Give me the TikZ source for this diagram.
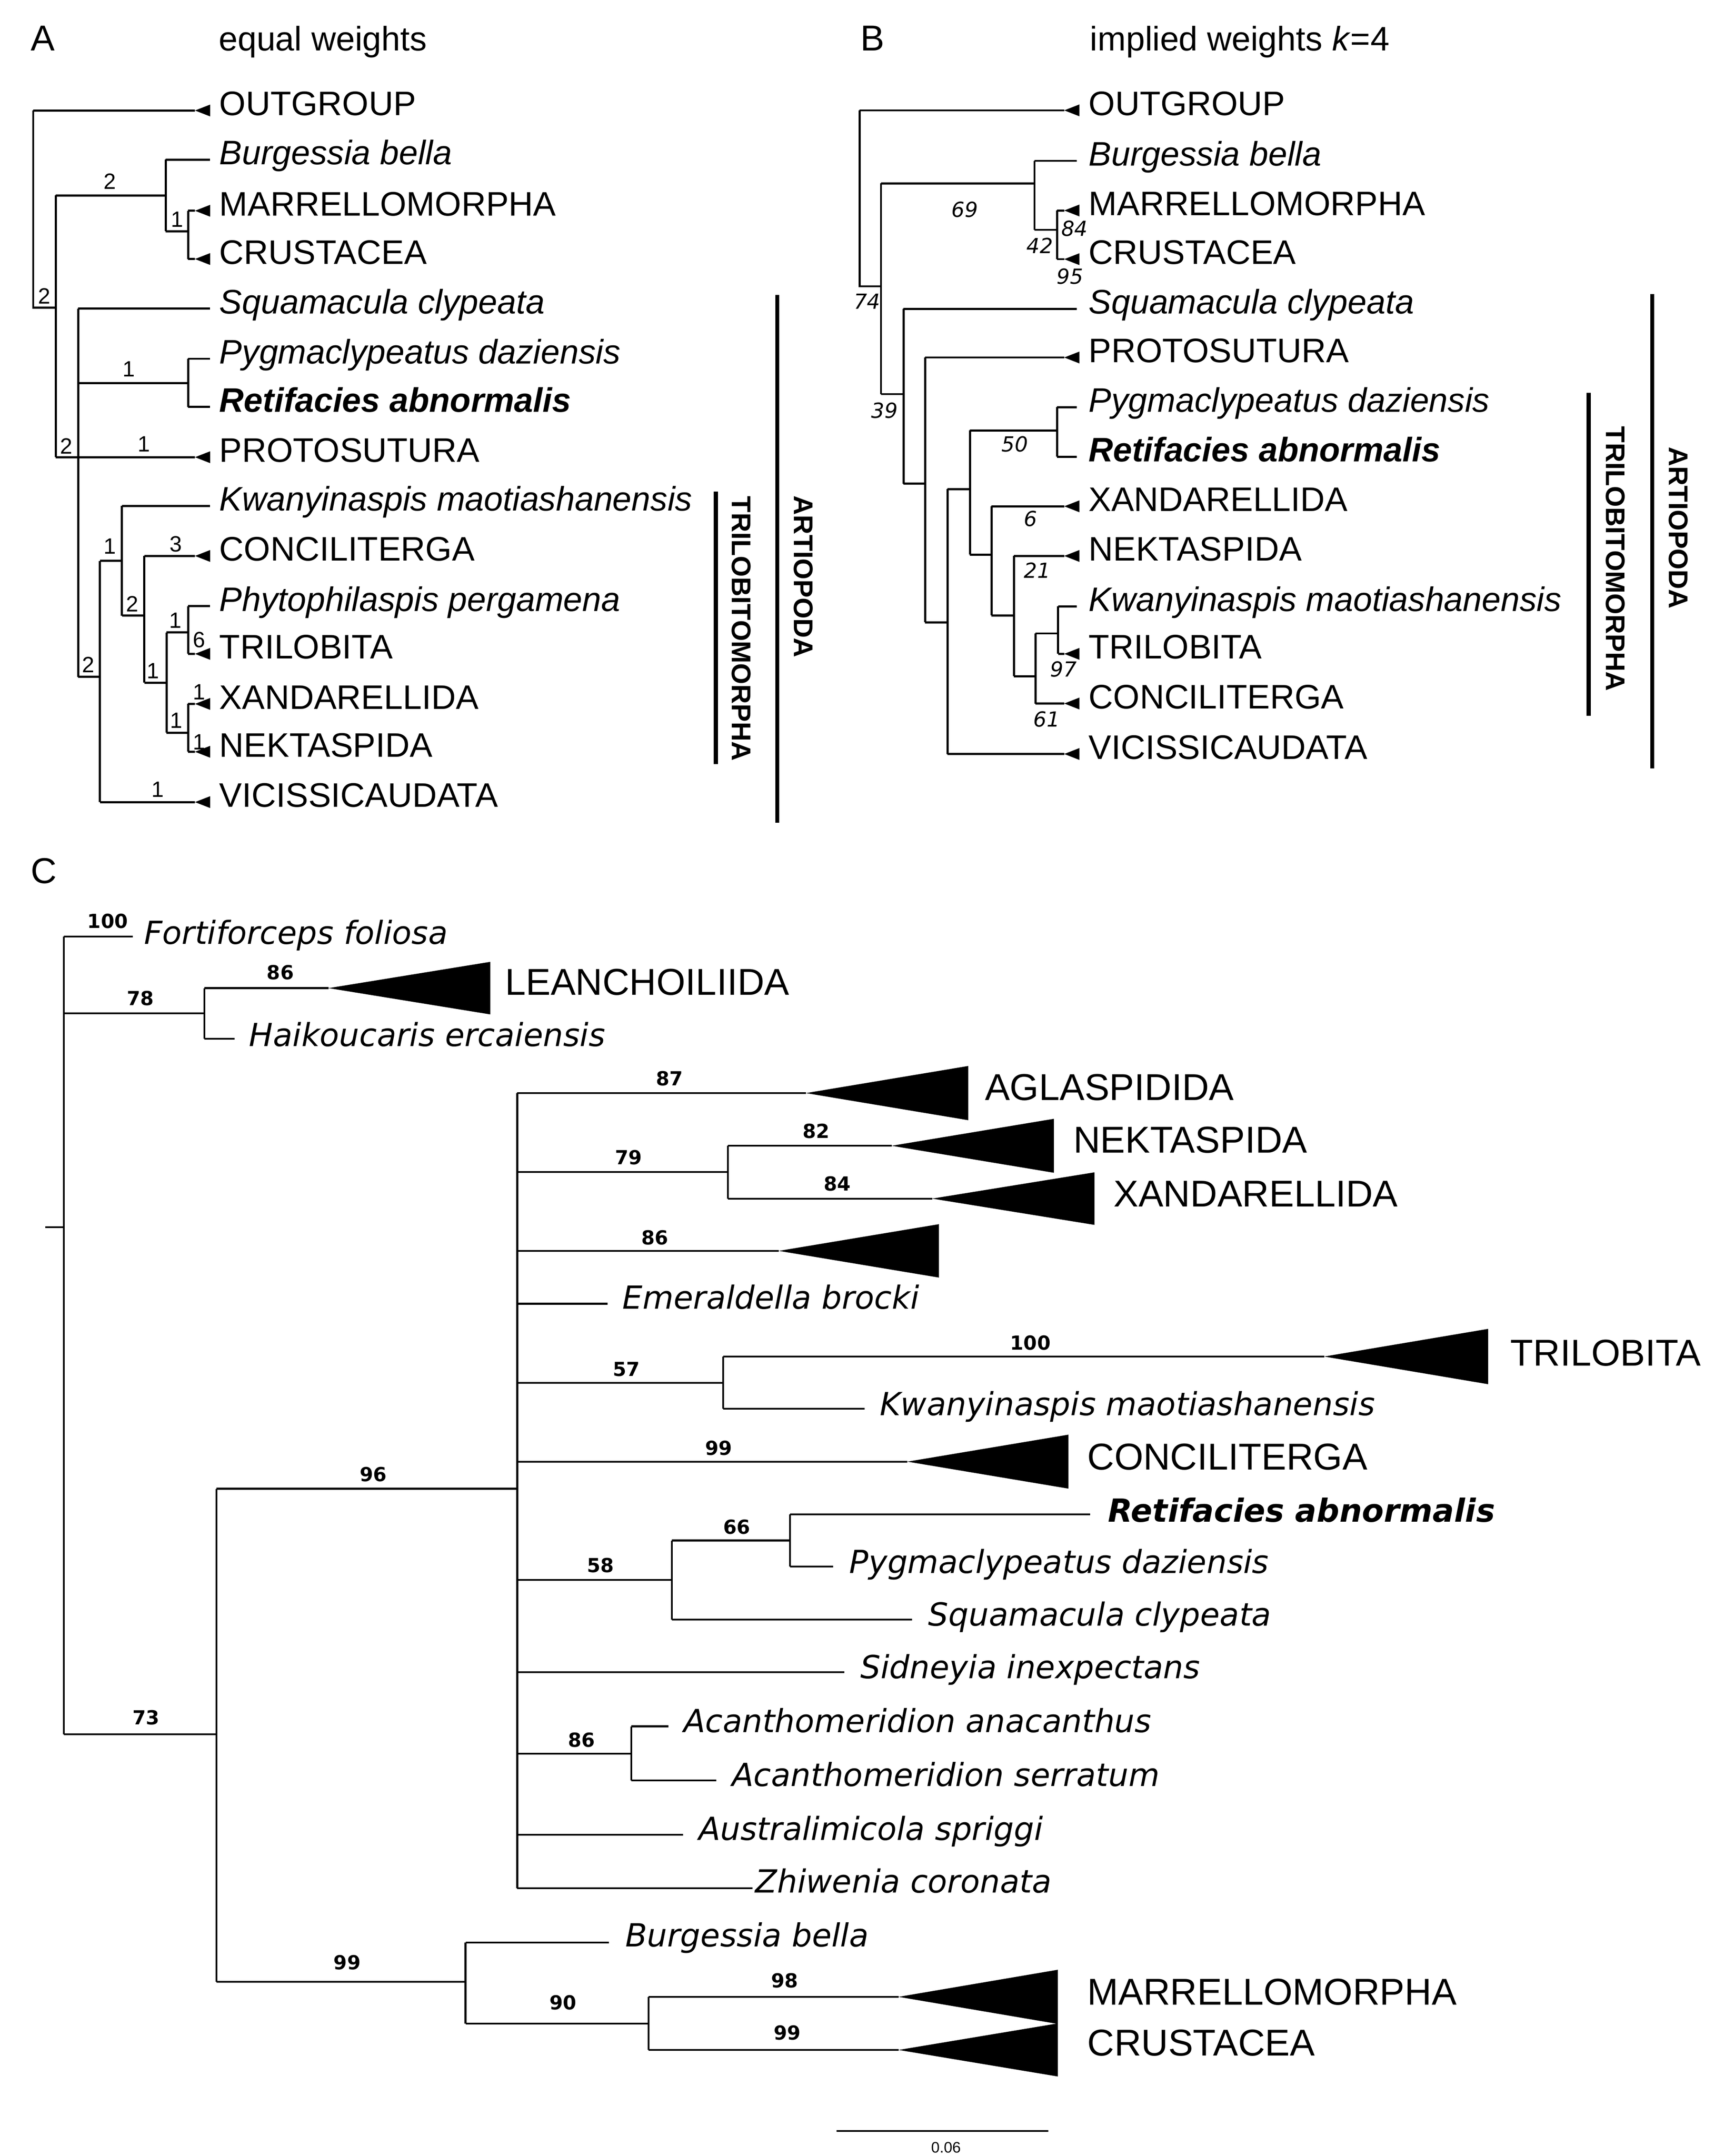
\documentclass[tikz,border=0pt]{standalone}
\usepackage{fontspec}
\newfontfamily\arial{Liberation Sans}
\newfontfamily\dejavu{DejaVu Sans}
\newcommand\tri[2]{\fill (#1-11,#2)--(#1,#2-4.3)--(#1,#2+4.3)--cycle;}
\newcommand\ctri[4]{\fill (#1,#2)--(#3,#2-#4)--(#3,#2+#4)--cycle;}
\tikzset{
 lab/.style={anchor=west,inner sep=0pt,text height=0.72em,text depth=0pt,font=\arial\fontsize{24.6}{26}\selectfont},
 itl/.style={lab,font=\arial\itshape\fontsize{24.6}{26}\selectfont},
 bitl/.style={lab,font=\arial\bfseries\itshape\fontsize{24.6}{26}\selectfont},
 numA/.style={inner sep=0pt,font=\arial\fontsize{16}{17}\selectfont},
 numB/.style={inner sep=0pt,font=\dejavu\itshape\fontsize{15}{16}\selectfont},
 numC/.style={inner sep=0pt,font=\dejavu\bfseries\fontsize{14}{15}\selectfont},
 capC/.style={anchor=west,inner sep=0pt,text height=0.72em,text depth=0pt,font=\arial\fontsize{27}{29}\selectfont},
 itC/.style={anchor=west,inner sep=0pt,text height=0.72em,text depth=0pt,font=\dejavu\itshape\fontsize{23}{25}\selectfont},
 bitC/.style={itC,font=\dejavu\bfseries\itshape\fontsize{23}{25}\selectfont},
 clade/.style={inner sep=0pt,rotate=-90,font=\arial\bfseries\fontsize{19.5}{21}\selectfont},
 br/.style={line width=1.5pt},
 brC/.style={line width=1.3pt},
 bar/.style={line width=3pt}
}
\begin{document}
\begin{tikzpicture}[x=1pt,y=-1pt]
\useasboundingbox (0,0) rectangle (1240,1559);
% ---------- headers
\node[lab,font=\arial\fontsize{26}{28}\selectfont] (hA) at (22,33) {A};
\node[lab] (tA) at (158,33) {equal weights};
\node[lab,font=\arial\fontsize{26}{28}\selectfont] (hB) at (622,33) {B};
\node[lab] (tB) at (788,33) {implied weights \textit{k}=4};
\node[lab,font=\arial\fontsize{26}{28}\selectfont] (hC) at (22,635) {C};
% ---------- panel A
\begin{scope}[br]
\draw (24,79.9)--(141,79.9); \tri{152}{79.9}
\draw (24,79.9)--(24,222.5)--(40.3,222.5);
\draw (40.3,141.3)--(40.3,330.6);
\draw (40.3,141.3)--(119.8,141.3);
\draw (119.8,115.4)--(119.8,167.2);
\draw (119.8,115.4)--(152,115.4);
\draw (119.8,167.2)--(136,167.2);
\draw (136,152.4)--(136,187.3);
\draw (136,152.4)--(141,152.4); \tri{152}{152.4}
\draw (136,187.3)--(141,187.3); \tri{152}{187.3}
\draw (40.3,330.6)--(141,330.6); \tri{152}{330.6}
\draw (56.5,223.2)--(56.5,489.4);
\draw (56.5,223.2)--(152,223.2);
\draw (56.5,277)--(136,277);
\draw (136,259.4)--(136,294.3);
\draw (136,259.4)--(152,259.4);
\draw (136,294.3)--(152,294.3);
\draw (56.5,489.4)--(72.3,489.4);
\draw (72.3,405.5)--(72.3,580);
\draw (72.3,580)--(141,580); \tri{152}{580}
\draw (72.3,405.5)--(88.1,405.5);
\draw (88.1,365.8)--(88.1,445.2);
\draw (88.1,365.8)--(152,365.8);
\draw (88.1,445.2)--(104.3,445.2);
\draw (104.3,402)--(104.3,493.6);
\draw (104.3,402)--(141,402); \tri{152}{402}
\draw (104.3,493.6)--(120.4,493.6);
\draw (120.4,457.3)--(120.4,529.8);
\draw (120.4,457.3)--(136,457.3);
\draw (136,438.3)--(136,472.8);
\draw (136,438.3)--(152,438.3);
\draw (136,472.8)--(141,472.8); \tri{152}{472.8}
\draw (120.4,529.8)--(136,529.8);
\draw (136,509)--(136,543.6);
\draw (136,509)--(141,509); \tri{152}{509}
\draw (136,543.6)--(141,543.6); \tri{152}{543.6}
\end{scope}
\node[lab] (a1) at (158.5,79.9) {OUTGROUP};
\node[itl] (a2) at (158.5,115.4) {Burgessia bella};
\node[lab] (a3) at (158.5,152.4) {MARRELLOMORPHA};
\node[lab] (a4) at (158.5,187.3) {CRUSTACEA};
\node[itl] (a5) at (158.5,223.2) {Squamacula clypeata};
\node[itl] (a6) at (158.5,259.4) {Pygmaclypeatus daziensis};
\node[bitl] (a7) at (158.5,294.3) {Retifacies abnormalis};
\node[lab] (a8) at (158.5,330.6) {PROTOSUTURA};
\node[itl] (a9) at (158.5,365.8) {Kwanyinaspis maotiashanensis};
\node[lab] (a10) at (158.5,402) {CONCILITERGA};
\node[itl] (a11) at (158.5,438.3) {Phytophilaspis pergamena};
\node[lab] (a12) at (158.5,472.8) {TRILOBITA};
\node[lab] (a13) at (158.5,509) {XANDARELLIDA};
\node[lab] (a14) at (158.5,543.6) {NEKTASPIDA};
\node[lab] (a15) at (158.5,580) {VICISSICAUDATA};
\foreach \x/\y/\t in {32/214/2,79.5/131/2,128/158.6/1,48/322.6/2,104/321/1,93/267/1,64/480.8/2,114/571/1,79.5/395/1,95.6/436.6/2,127/393.5/3,110.6/485/1,126.7/448.7/1,144/462.5/6,127.3/521/1,144/500.5/1,144/536.7/1}
  \node[numA] at (\x,\y) {\t};
\draw[bar] (517.5,355.4)--(517.5,552.4);
\node[clade] (tmA) at (536,454.5) {TRILOBITOMORPHA};
\draw[bar] (562,213.2)--(562,594.8);
\node[clade] (arA) at (581,417) {ARTIOPODA};
% ---------- panel B
\begin{scope}[br]
\draw (621.5,79.8)--(769.5,79.8); \tri{780.5}{79.8}
\draw (621.5,79.8)--(621.5,207)--(637,207);
\draw (637,132.6)--(637,285);
\draw (637,132.6)--(748,132.6);
\draw (748,116.3)--(748,166.2);
\draw (748,116.3)--(778.6,116.3);
\draw (748,166.2)--(764.3,166.2);
\draw (764.3,152.2)--(764.3,187.4);
\draw (764.3,152.2)--(769.5,152.2); \tri{780.5}{152.2}
\draw (764.3,187.4)--(769.5,187.4); \tri{780.5}{187.4}
\draw (637,285)--(653.3,285);
\draw (653.3,223.3)--(653.3,349.8);
\draw (653.3,223.3)--(778.6,223.3);
\draw (653.3,349.8)--(668.9,349.8);
\draw (668.9,258.5)--(668.9,450);
\draw (668.9,258.5)--(769.5,258.5); \tri{780.5}{258.5}
\draw (668.9,450)--(685.1,450);
\draw (685.1,353.7)--(685.1,545.2);
\draw (685.1,545.2)--(769.5,545.2); \tri{780.5}{545.2}
\draw (685.1,353.7)--(701.3,353.7);
\draw (701.3,311.3)--(701.3,401);
\draw (701.3,311.3)--(764.3,311.3);
\draw (764.3,294.4)--(764.3,330.3);
\draw (764.3,294.4)--(778.6,294.4);
\draw (764.3,330.3)--(778.6,330.3);
\draw (701.3,401)--(716.9,401);
\draw (716.9,366.1)--(716.9,445);
\draw (716.9,366.1)--(769.5,366.1); \tri{780.5}{366.1}
\draw (716.9,445)--(733.1,445);
\draw (733.1,402)--(733.1,489);
\draw (733.1,402)--(769.5,402); \tri{780.5}{402}
\draw (733.1,489)--(748.7,489);
\draw (748.7,458)--(748.7,508.7);
\draw (748.7,508.7)--(769.5,508.7); \tri{780.5}{508.7}
\draw (748.7,458)--(765,458);
\draw (765,438.5)--(765,472.8);
\draw (765,438.5)--(778.6,438.5);
\draw (765,472.8)--(769.5,472.8); \tri{780.5}{472.8}
\end{scope}
\node[lab] (b1) at (787,79.8) {OUTGROUP};
\node[itl] (b2) at (787,116.3) {Burgessia bella};
\node[lab] (b3) at (787,152.2) {MARRELLOMORPHA};
\node[lab] (b4) at (787,187.4) {CRUSTACEA};
\node[itl] (b5) at (787,223.3) {Squamacula clypeata};
\node[lab] (b6) at (787,258.5) {PROTOSUTURA};
\node[itl] (b7) at (787,294.4) {Pygmaclypeatus daziensis};
\node[bitl] (b8) at (787,330.3) {Retifacies abnormalis};
\node[lab] (b9) at (787,366.1) {XANDARELLIDA};
\node[lab] (b10) at (787,402) {NEKTASPIDA};
\node[itl] (b11) at (787,438.5) {Kwanyinaspis maotiashanensis};
\node[lab] (b12) at (787,472.8) {TRILOBITA};
\node[lab] (b13) at (787,508.7) {CONCILITERGA};
\node[lab] (b14) at (787,545.2) {VICISSICAUDATA};
\foreach \x/\y/\t in {627/218/74,697.5/151.5/69,751.8/177.6/42,777/165.2/84,773.6/199.8/95,639.6/296.7/39,733.7/321/50,745/375/6,750/412.5/21,756.8/520/61,769/484/97}
  \node[numB] at (\x,\y) {\t};
\draw[bar] (1148.6,283.9)--(1148.6,517.5);
\node[clade] (tmB) at (1168,404) {TRILOBITOMORPHA};
\draw[bar] (1194.7,212.6)--(1194.7,555.5);
\node[clade] (arB) at (1213.5,381.7) {ARTIOPODA};
% ---------- panel C
\begin{scope}[brC]
\draw (32.8,887.4)--(46.2,887.4);
\draw (46.2,677.2)--(46.2,1254);
\draw (46.2,677.2)--(96.1,677.2);
\draw (46.2,732.8)--(147.7,732.8);
\draw (147.7,714.5)--(147.7,751.2);
\draw (147.7,714.5)--(237.6,714.5); \ctri{237.6}{714.5}{354.5}{19}
\draw (147.7,751.2)--(169.7,751.2);
\draw (46.2,1254)--(156.5,1254);
\draw (156.5,1076.5)--(156.5,1433);
\draw (156.5,1076.5)--(374,1076.5);
\draw (374,790.4)--(374,1365.4);
\draw (374,790.4)--(582.7,790.4); \ctri{582.7}{790.4}{700.1}{19.6}
\draw (374,847.5)--(526.3,847.5);
\draw (526.3,828.5)--(526.3,866.7);
\draw (526.3,828.5)--(644.7,828.5); \ctri{644.7}{828.5}{762}{19.5}
\draw (526.3,866.7)--(674,866.7); \ctri{674}{866.7}{791.4}{19}
\draw (374,904.5)--(563.1,904.5); \ctri{563.1}{904.5}{678.9}{19.3}
\draw (374,942.7)--(439.2,942.7);
\draw (374,999.8)--(522.9,999.8);
\draw (522.9,980.9)--(522.9,1018.7);
\draw (522.9,980.9)--(957.4,980.9); \ctri{957.4}{980.9}{1076}{20}
\draw (522.9,1018.7)--(625,1018.7);
\draw (374,1056.9)--(656.1,1056.9); \ctri{656.1}{1056.9}{772.5}{19.5}
\draw (374,1142.3)--(485.8,1142.3);
\draw (485.8,1113.9)--(485.8,1171);
\draw (485.8,1113.9)--(571.3,1113.9);
\draw (571.3,1095)--(571.3,1132.8);
\draw (571.3,1095)--(788.2,1095);
\draw (571.3,1132.8)--(602.3,1132.8);
\draw (485.8,1171)--(659.3,1171);
\draw (374,1209.2)--(610.4,1209.2);
\draw (374,1268)--(456.5,1268);
\draw (456.5,1248.3)--(456.5,1287.4);
\draw (456.5,1248.3)--(483.3,1248.3);
\draw (456.5,1287.4)--(517.9,1287.4);
\draw (374,1326.8)--(493.9,1326.8);
\draw (374,1365.4)--(544.2,1365.4);
\draw (156.5,1433)--(336.6,1433);
\draw (336.6,1404.6)--(336.6,1463.2);
\draw (336.6,1404.6)--(440.2,1404.6);
\draw (336.6,1463.2)--(468.9,1463.2);
\draw (468.9,1443.9)--(468.9,1482.3);
\draw (468.9,1443.9)--(649.7,1443.9); \ctri{649.7}{1443.9}{764.9}{19.6}
\draw (468.9,1482.3)--(649.7,1482.3); \ctri{649.7}{1482.3}{764.9}{19.2}
\draw (605,1541)--(758,1541);
\end{scope}
\node[itC] (c1) at (104,679) {Fortiforceps foliosa};
\node[capC] (c2) at (365,716) {LEANCHOILIIDA};
\node[itC] (c3) at (180,753) {Haikoucaris ercaiensis};
\node[capC] (c4) at (712,792) {AGLASPIDIDA};
\node[capC] (c5) at (776,830) {NEKTASPIDA};
\node[capC] (c6) at (805,869) {XANDARELLIDA};
\node[itC] (c7) at (450,943) {Emeraldella brocki};
\node[capC] (c8) at (1092,984) {TRILOBITA};
\node[itC] (c9) at (636,1020) {Kwanyinaspis maotiashanensis};
\node[capC] (c10) at (786,1059) {CONCILITERGA};
\node[bitC] (c11) at (801,1097) {Retifacies abnormalis};
\node[itC] (c12) at (614,1134) {Pygmaclypeatus daziensis};
\node[itC] (c13) at (671,1172) {Squamacula clypeata};
\node[itC] (c14) at (622,1210) {Sidneyia inexpectans};
\node[itC] (c15) at (494,1249) {Acanthomeridion anacanthus};
\node[itC] (c16) at (529,1288) {Acanthomeridion serratum};
\node[itC] (c17) at (505,1327) {Australimicola spriggi};
\node[itC] (c18) at (546,1365) {Zhiwenia coronata};
\node[itC] (c19) at (452,1404) {Burgessia bella};
\node[capC] (c20) at (786,1446) {MARRELLOMORPHA};
\node[capC] (c21) at (786,1483) {CRUSTACEA};
\foreach \x/\y/\t in {77.9/666/100,101.5/722/78,202.7/703/86,105.5/1242/73,270/1066/96,251/1419/99,407/1448/90,484.2/780/87,454.5/837/79,590.2/818/82,605.5/856/84,473.4/895/86,452.9/990/57,745/971/100,519.7/1047/99,434.3/1132/58,532.8/1104/66,420.5/1258/86,567.3/1432/98,569.2/1470/99}
  \node[numC] at (\x,\y) {\t};
\node[inner sep=0pt,font=\arial\fontsize{11}{12}\selectfont] (sc) at (684,1553) {0.06};
\end{tikzpicture}
\end{document}
